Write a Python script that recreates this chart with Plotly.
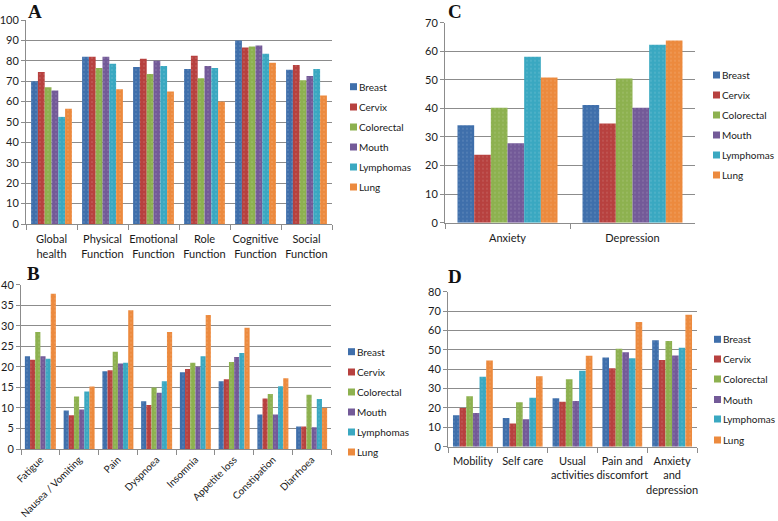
import plotly.graph_objects as go

W, H = 778, 521

series = ["Breast", "Cervix", "Colorectal", "Mouth", "Lymphomas", "Lung"]
colors = ["#3f6fab", "#b7413f", "#8db14f", "#735a98", "#3aa8c1", "#ec8a3e"]

# Panel A
a_categories = ["Global<br>health", "Physical<br>Function", "Emotional<br>Function",
                "Role<br>Function", "Cognitive<br>Function", "Social<br>Function"]
a_breast = [70, 82, 77, 76, 90, 75.6]
a_cervix = [74.5, 82, 81, 82.5, 86.5, 78]
a_colorectal = [67, 76.5, 73.5, 71.5, 87, 70.5]
a_mouth = [65.5, 82, 80, 77.5, 87.5, 72.5]
a_lymphomas = [52.5, 78.5, 77.5, 76.5, 83.5, 76]
a_lung = [56.5, 66, 65, 60, 79, 63]

# Panel B
b_categories = ["Fatigue", "Nausea / Vomiting", "Pain", "Dyspnoea", "Insomnia",
                "Appetite loss", "Constipation", "Diarrhoea"]
b_breast = [22.6, 9.4, 18.9, 11.6, 18.7, 16.5, 8.4, 5.5]
b_cervix = [21.7, 8.2, 19.2, 10.7, 19.5, 17.0, 12.3, 5.5]
b_colorectal = [28.5, 12.8, 23.7, 15.0, 21.0, 21.2, 13.4, 13.2]
b_mouth = [22.6, 9.6, 20.8, 13.7, 20.0, 22.4, 8.4, 5.3]
b_lymphomas = [22.0, 14.0, 21.0, 16.5, 22.6, 23.4, 15.3, 12.2]
b_lung = [37.8, 15.2, 33.8, 28.5, 32.6, 29.5, 17.2, 10.0]

# Panel C
c_categories = ["Anxiety", "Depression"]
c_breast = [34.1, 41.2]
c_cervix = [23.8, 34.7]
c_colorectal = [40.2, 50.5]
c_mouth = [27.8, 40.2]
c_lymphomas = [58.1, 62.3]
c_lung = [50.8, 63.8]

# Panel D
d_categories = ["Mobility", "Self care", "Usual<br>activities", "Pain and<br>discomfort",
                "Anxiety<br>and<br>depression"]
d_breast = [16.2, 14.8, 25.0, 46.1, 54.9]
d_cervix = [20.0, 12.0, 23.2, 40.5, 44.8]
d_colorectal = [26.0, 22.9, 34.8, 50.6, 54.6]
d_mouth = [17.4, 14.2, 23.6, 48.8, 47.1]
d_lymphomas = [36.1, 25.3, 39.2, 45.6, 51.1]
d_lung = [44.5, 36.4, 46.9, 64.4, 68.1]

panels = [
    ("A", a_categories, [a_breast, a_cervix, a_colorectal, a_mouth, a_lymphomas, a_lung], "x", "y"),
    ("B", b_categories, [b_breast, b_cervix, b_colorectal, b_mouth, b_lymphomas, b_lung], "x2", "y2"),
    ("C", c_categories, [c_breast, c_cervix, c_colorectal, c_mouth, c_lymphomas, c_lung], "x3", "y3"),
    ("D", d_categories, [d_breast, d_cervix, d_colorectal, d_mouth, d_lymphomas, d_lung], "x4", "y4"),
]

fig = go.Figure()
for name, cats, vals, xa, ya in panels:
    for s, v, c in zip(series, vals, colors):
        fig.add_trace(go.Bar(
            x=cats, y=v, name=s, xaxis=xa, yaxis=ya, showlegend=False,
            marker=dict(color=c, line=dict(width=0),
                        pattern=dict(shape=".", fillmode="overlay", fgcolor="white",
                                     fgopacity=0.22, size=4, solidity=0.12)),
            hovertemplate=s + ": %{y}<extra></extra>",
        ))

def px_x(p):
    return p / W

def px_y(p):
    return 1 - p / H

FONT = "Lato, 'Open Sans', Arial, sans-serif"
grid = "#8c8c8c"

def yaxis(dom, rng, dt, anchor):
    return dict(domain=dom, range=rng, dtick=dt, anchor=anchor, showgrid=True,
                gridcolor=grid, gridwidth=1, showline=True, linecolor=grid, linewidth=1,
                ticks="outside", ticklen=4, tickcolor=grid, zeroline=False, automargin=False,
                tickfont=dict(family=FONT, size=11, color="#1a1a1a"), fixedrange=True)

def xaxis(dom, anchor, angle=0, standoff=0, fsize=11):
    return dict(domain=dom, anchor=anchor, showline=True, linecolor=grid, linewidth=1,
                ticks="outside", ticklen=5, tickcolor=grid, tickson="boundaries",
                tickangle=angle, showgrid=False, automargin=False, ticklabelstandoff=standoff,
                tickfont=dict(family=FONT, size=fsize, color="#1a1a1a"), fixedrange=True)

fig.update_layout(
    width=W, height=H, margin=dict(l=0, r=0, t=0, b=0, pad=0), autosize=False,
    paper_bgcolor="white", plot_bgcolor="white",
    barmode="group", bargap=0.2, bargroupgap=0,
    xaxis=xaxis([px_x(26), px_x(332)], "y", standoff=5),
    yaxis=yaxis([px_y(224), px_y(20)], [0, 100], 10, "x"),
    xaxis2=xaxis([px_x(21), px_x(331)], "y2", angle=-45, fsize=10),
    yaxis2=yaxis([px_y(449), px_y(284.7)], [0, 40], 5, "x2"),
    xaxis3=xaxis([px_x(445), px_x(695)], "y3", standoff=5),
    yaxis3=yaxis([px_y(222.7), px_y(22.7)], [0, 70], 10, "x3"),
    xaxis4=xaxis([px_x(448), px_x(697)], "y4", standoff=4),
    yaxis4=yaxis([px_y(446.7), px_y(291.7)], [0, 80], 10, "x4"),
    font=dict(family=FONT, size=11, color="#1a1a1a"),
)

# Panel letters
letters = [("A", 27, 11), ("B", 26, 273), ("C", 447, 11), ("D", 447, 276)]
for t, x, y in letters:
    fig.add_annotation(text="<b>%s</b>" % t, x=px_x(x), y=px_y(y), xref="paper", yref="paper",
                       xanchor="left", yanchor="middle", showarrow=False, borderpad=0,
                       font=dict(family="'Liberation Serif', 'Times New Roman', serif", size=19, color="#111"))

# Legends (one per panel)
legends = [(350, [86.7, 107, 127, 147, 167, 187]),
           (348, [351.7, 372, 392, 412, 432, 452]),
           (713, [75, 95, 115, 135, 155, 175]),
           (714, [339.3, 359, 379, 399.5, 419, 440])]
for lx, ys in legends:
    for s, c, yy in zip(series, colors, ys):
        fig.add_shape(type="rect", xref="paper", yref="paper",
                      x0=px_x(lx), x1=px_x(lx + 7), y0=px_y(yy + 3.5), y1=px_y(yy - 3.5),
                      fillcolor=c, line=dict(width=0))
        fig.add_annotation(text=s, x=px_x(lx + 7), y=px_y(yy), xref="paper", yref="paper",
                           xanchor="left", yanchor="middle", showarrow=False,
                           font=dict(family=FONT, size=10, color="#1a1a1a"))

fig.write_html("out.html", config={"displayModeBar": False},
               post_script="document.body.style.margin='0';document.body.style.padding='0';")
